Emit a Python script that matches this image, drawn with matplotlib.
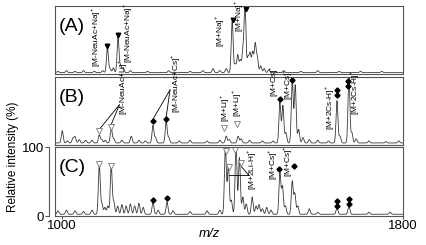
import numpy as np
import matplotlib
matplotlib.use("Agg")
import matplotlib.pyplot as plt

plt.rcParams['font.family'] = ['Liberation Sans', 'DejaVu Sans']
plt.rcParams['mathtext.fontset'] = 'custom'
plt.rcParams['mathtext.rm'] = 'Liberation Sans'

# ---------------- data: peak lists (m/z, relative height) ----------------
peaks_A_mz = [990, 1010, 1030, 1050, 1075, 1095, 1106, 1112, 1120, 1131, 1137, 1143, 1160, 1200,
              1250, 1300, 1330, 1354, 1370, 1385, 1399, 1406, 1412, 1418, 1424, 1429, 1436, 1441,
              1447, 1453, 1458, 1466, 1474, 1485, 1520, 1560, 1600, 1650, 1700, 1750]
peaks_A_h = [0.02, 0.03, 0.02, 0.03, 0.02, 0.03, 0.36, 0.06, 0.07, 0.52, 0.10, 0.07, 0.03, 0.02,
             0.03, 0.02, 0.03, 0.06, 0.03, 0.06, 0.76, 0.12, 0.26, 0.18, 0.30, 1.00, 0.22, 0.28,
             0.30, 0.42, 0.22, 0.10, 0.06, 0.04, 0.03, 0.02, 0.03, 0.02, 0.02, 0.02]

peaks_B_mz = [1000, 1012, 1025, 1030, 1040, 1055, 1070, 1087, 1093, 1101, 1115, 1121, 1140, 1162,
              1180, 1195, 1213, 1219, 1244, 1250, 1275, 1300, 1340, 1370, 1385, 1392, 1413, 1420,
              1440, 1470, 1495, 1511, 1518, 1525, 1540, 1547, 1555, 1565, 1580, 1600, 1625, 1645,
              1652, 1673, 1680, 1690, 1720, 1760, 1790]
peaks_B_h = [0.18, 0.03, 0.07, 0.09, 0.05, 0.04, 0.04, 0.12, 0.05, 0.04, 0.22, 0.06, 0.04, 0.10,
             0.04, 0.03, 0.26, 0.08, 0.32, 0.08, 0.03, 0.04, 0.03, 0.04, 0.10, 0.05, 0.10, 0.06,
             0.04, 0.03, 0.03, 0.60, 0.55, 0.15, 0.95, 0.85, 0.20, 0.08, 0.05, 0.04, 0.03, 0.62,
             0.10, 1.00, 0.15, 0.06, 0.03, 0.02, 0.03]

peaks_C_mz = [990, 1010, 1030, 1050, 1070, 1087, 1093, 1100, 1107, 1115, 1121, 1130, 1140, 1150,
              1160, 1170, 1180, 1190, 1213, 1225, 1246, 1260, 1300, 1340, 1370, 1383, 1390, 1397,
              1408, 1416, 1424, 1432, 1446, 1455, 1462, 1470, 1480, 1490, 1511, 1517, 1524, 1540,
              1546, 1553, 1580, 1600, 1645, 1673, 1720, 1770]
peaks_C_h = [5, 6, 5, 4, 6, 72, 15, 10, 12, 70, 18, 12, 14, 12,
             15, 12, 16, 10, 18, 6, 18, 5, 4, 5, 6, 100, 72, 20,
             100, 82, 25, 15, 25, 12, 14, 8, 10, 6, 60, 40, 12, 48,
             30, 12, 8, 3, 9, 12, 3, 3]

# annotations
lab_A = ["[M-NeuAc+Na]$^{+}$", "[M-NeuAc+Na]$^{+}$", "[M+Na]$^{+}$", "[M+Na]$^{+}$"]
lab_A_x = [1077, 1153, 1369, 1413]
lab_A_y = [0.10, 0.16, 0.40, 0.62]
tri_A_x = [1106, 1131, 1401, 1432]
tri_A_y = [0.41, 0.57, 0.79, 0.95]

lab_B = ["[M-NeuAc+Li]$^{+}$", "[M-NeuAc+Cs]$^{+}$", "[M+Li]$^{+}$", "[M+Li]$^{+}$",
         "[M+Cs]$^{+}$", "[M+Cs]$^{+}$", "[M+2Cs-H]$^{+}$", "[M+2Cs-H]$^{+}$"]
lab_B_x = [1141, 1265, 1382, 1410, 1496, 1529, 1628, 1685]
lab_B_y = [0.44, 0.47, 0.34, 0.41, 0.70, 0.66, 0.22, 0.44]
otri_B_x = [1087, 1115, 1380, 1410]
otri_B_y = [0.20, 0.27, 0.25, 0.31]
dia_B_x = [1213, 1244, 1511, 1540, 1645, 1645, 1670, 1670]
dia_B_y = [0.35, 0.38, 0.67, 0.96, 0.81, 0.74, 0.94, 0.87]
lines_B = [((1134, 0.59), (1087, 0.23)), ((1134, 0.59), (1115, 0.30)),
           ((1253, 0.81), (1213, 0.38)), ((1253, 0.81), (1244, 0.41))]

lab_C = ["[M+2Li-H]$^{+}$", "[M+Cs]$^{+}$", "[M+Cs]$^{+}$"]
lab_C_x = [1445, 1493, 1530]
lab_C_y = [38, 52, 56]
otri_C_x = [1087, 1115, 1385, 1406, 1392, 1420]
otri_C_y = [75, 72, 94, 95, 71, 77]
dia_C_x = [1213, 1246, 1509, 1543, 1645, 1645, 1673, 1673]
dia_C_y = [23, 26, 68, 72, 22, 15, 25, 18]
lines_C = [((1438, 59), (1392, 59)), ((1438, 59), (1420, 72))]

XMIN, XMAX = 983, 1800


def spectrum(x, mz, h, base, width=2.2):
    y = np.full_like(x, base)
    for c, a in zip(mz, h):
        y += a * np.exp(-0.5 * ((x - c) / width) ** 2)
    return y


x = np.arange(XMIN, XMAX, 0.25)
fig = plt.figure(figsize=(4.26, 2.45), dpi=100)

L, R = 55 / 426, 403 / 426
def box(top_px, bot_px):
    return [L, 1 - bot_px / 245, R - L, (bot_px - top_px) / 245]

axA = fig.add_axes(box(6, 74))
axB = fig.add_axes(box(77, 145))
axC = fig.add_axes(box(147, 216))

lc = '#3a3a3a'
frame = '#555555'
for ax in (axA, axB, axC):
    for s in ax.spines.values():
        s.set_color(frame)
        s.set_linewidth(0.8)
    ax.set_xlim(XMIN, XMAX)
    ax.tick_params(axis='both', which='both', length=0, labelbottom=False, labelleft=False)

axA.plot(x, spectrum(x, peaks_A_mz, peaks_A_h, 0.02), color=lc, lw=0.6)
axA.set_ylim(0, 1.0)
axB.plot(x, spectrum(x, peaks_B_mz, peaks_B_h, 0.03), color=lc, lw=0.6)
axB.set_ylim(0, 1.0)
axC.plot(x, spectrum(x, peaks_C_mz, peaks_C_h, 2.5), color=lc, lw=0.6)
axC.set_ylim(0, 100)

tk = dict(rotation=90, ha='center', va='bottom', fontsize=6, color='black')
for t, xx, yy in zip(lab_A, lab_A_x, lab_A_y):
    axA.text(xx, yy, t, **tk)
axA.plot(tri_A_x, tri_A_y, 'v', color='black', ms=3.3, ls='none')

for t, xx, yy in zip(lab_B, lab_B_x, lab_B_y):
    axB.text(xx, yy, t, **tk)
for (p0, p1) in lines_B:
    axB.plot([p0[0], p1[0]], [p0[1], p1[1]], color='black', lw=0.6)
axB.plot(otri_B_x, otri_B_y, 'v', mfc='white', mec='#777777', mew=0.6, ms=4.3, ls='none')
axB.plot(dia_B_x, dia_B_y, 'D', color='black', ms=2.6, ls='none')

for t, xx, yy in zip(lab_C, lab_C_x, lab_C_y):
    axC.text(xx, yy, t, **tk)
for (p0, p1) in lines_C:
    axC.plot([p0[0], p1[0]], [p0[1], p1[1]], color='black', lw=0.6)
axC.plot(otri_C_x, otri_C_y, 'v', mfc='white', mec='#777777', mew=0.6, ms=4.3, ls='none')
axC.plot(dia_C_x, dia_C_y, 'D', color='black', ms=2.6, ls='none')

# panel letters
for ax, lt in zip((axA, axB, axC), ("(A)", "(B)", "(C)")):
    ax.text(0.012, 0.83, lt, transform=ax.transAxes, fontsize=14, va='top', ha='left')

# y axis of C (offset) + box line
axC.spines['left'].set_position(('outward', 4))
axC.plot([0, 0], [0, 1], transform=axC.transAxes, color=frame, lw=0.8, clip_on=False)
axC.set_yticks([0, 100])
axC.set_yticklabels(['0', '100'])
axC.tick_params(axis='y', length=3, width=0.8, color=frame, labelleft=True, labelsize=9.5, pad=1)
axC.set_xticks([1000, 1800])
axC.set_xticklabels(['1000', '1800'])
axC.tick_params(axis='x', length=2, width=0.8, color=frame, labelbottom=True, labelsize=9.5, pad=1)
axC.set_xlabel('m/z', fontstyle='italic', fontsize=9.5, labelpad=0)
axC.xaxis.set_label_coords(0.445, -0.17)

fig.text(13 / 426, 1 - 157 / 245, 'Relative intensity (%)', rotation=90, ha='center', va='center', fontsize=8.5)

fig.savefig('out.png', dpi=100)
